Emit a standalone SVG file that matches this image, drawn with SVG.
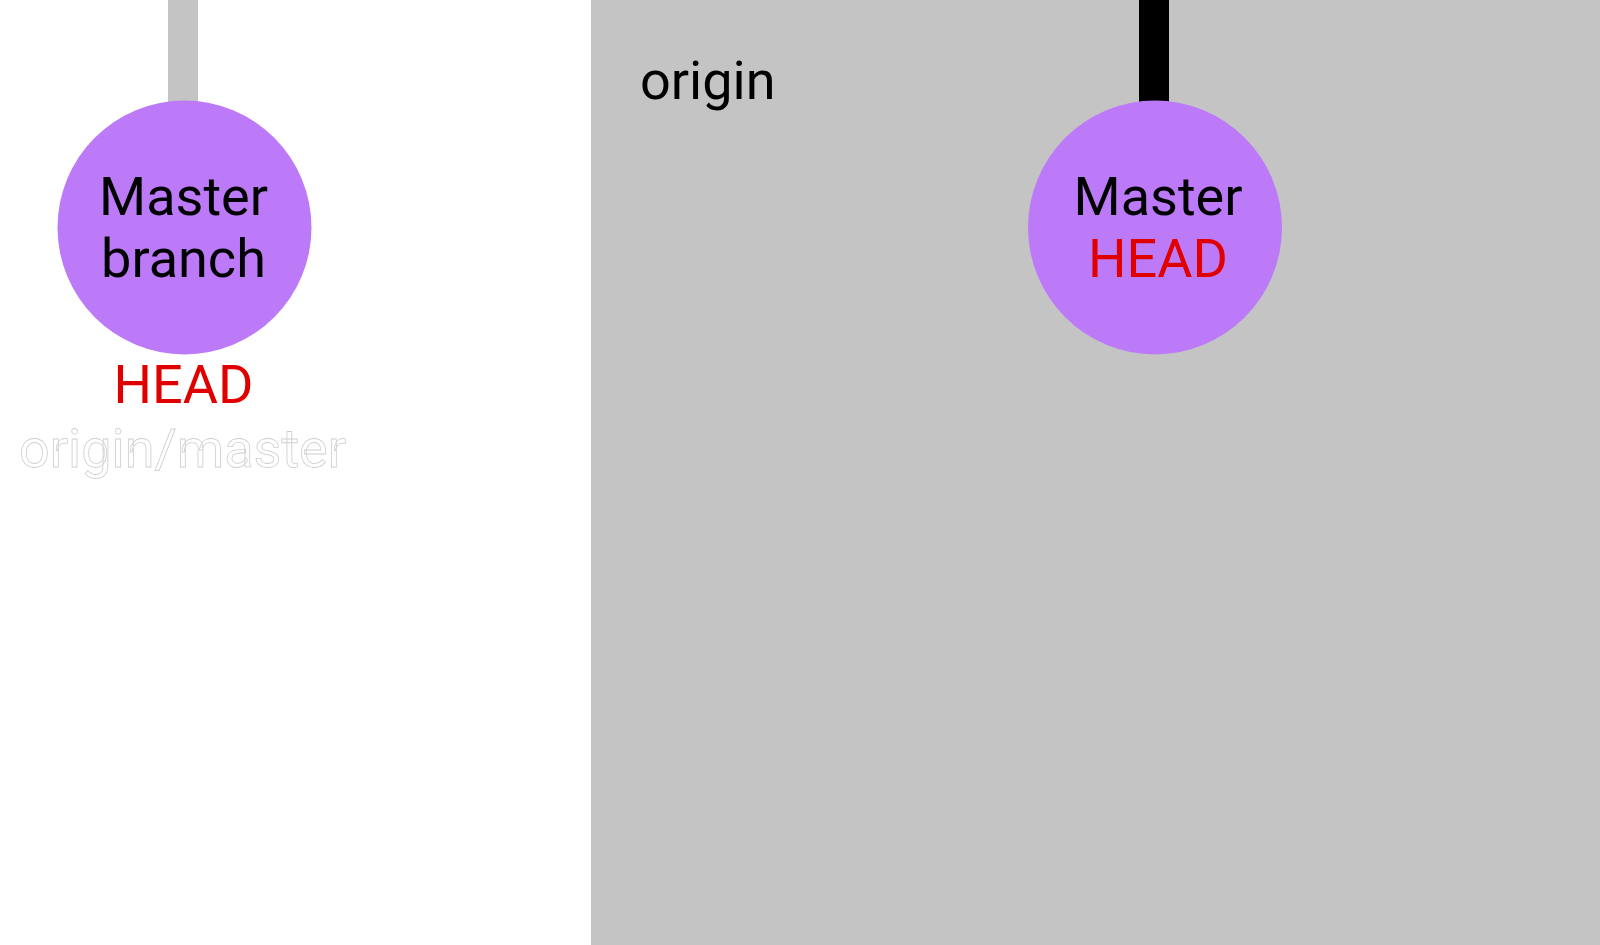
<svg xmlns="http://www.w3.org/2000/svg" width="1600" height="945" viewBox="0 0 1600 945">
<style>
text{font-family:Roboto,"Liberation Sans",sans-serif;font-size:54px;text-anchor:middle}
.node{fill:#bc7af9}
.lbl{fill:#000}
.head{fill:#e00000}
</style>
<rect x="0" y="0" width="1600" height="945" fill="#ffffff"/>
<g id="origin-area">
<rect x="591" y="0" width="1009" height="945" fill="#c4c4c4"/>
<text x="640" y="99" style="text-anchor:start" class="lbl">origin</text>
</g>
<g id="connectors">
<rect x="168" y="0" width="30" height="104" fill="#c4c4c4"/>
<rect x="1139" y="0" width="30" height="104" fill="#000000"/>
</g>
<g id="local-master">
<circle cx="184.5" cy="227.5" r="127" class="node"/>
<text x="183.5" y="215" class="lbl">Master</text>
<text x="183.5" y="277" class="lbl">branch</text>
<text x="183.5" y="403" class="head">HEAD</text>
<text x="182.5" y="467" fill="#ffffff" stroke="#cfcfcf" stroke-width="0.8">origin/master</text>
</g>
<g id="origin-master">
<circle cx="1155" cy="227.5" r="127" class="node"/>
<text x="1158" y="215" class="lbl">Master</text>
<text x="1158" y="277" class="head">HEAD</text>
</g>
</svg>
